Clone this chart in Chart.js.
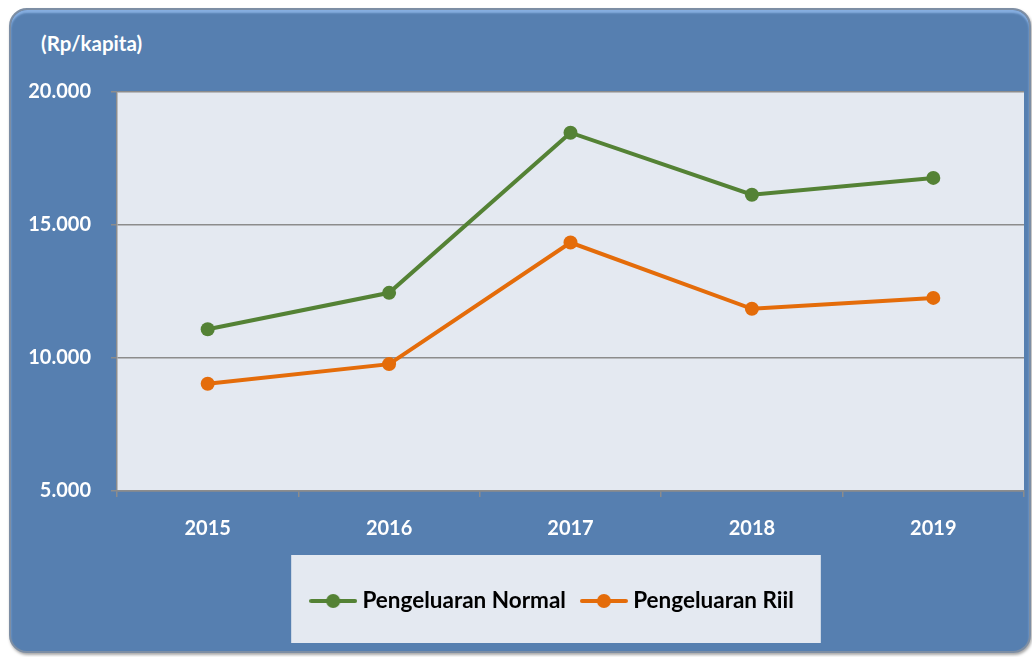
<!DOCTYPE html>
<html>
<head>
<meta charset="utf-8">
<script src="https://cdn.jsdelivr.net/npm/chart.js@4"></script>
<style>
  body { margin: 0; background: #ffffff; }
  #wrap { position: relative; width: 1032px; height: 657px; }
  #frame {
    position: absolute; left: 9px; top: 8px; width: 1018px; height: 641px;
    background: #567fb0; border: 2px solid #7d8ea4; border-radius: 18px;
    box-shadow: inset 0 3px 2px #86aee0, 1px 2px 3px rgba(0,0,0,0.35);
  }
  #unit {
    position: absolute; left: 41px; top: 31px; color: #fff;
    font: bold 20.5px Lato, sans-serif;
  }
  canvas { position: absolute; left: 0; top: 0; }
</style>
</head>
<body>
<div id="wrap">
  <div id="frame"></div>
  <div id="unit">(Rp/kapita)</div>
  <canvas id="myChart" width="1032" height="657"></canvas>
</div>
<script>
const years = ["2015", "2016", "2017", "2018", "2019"];
const normal = [11080, 12450, 18470, 16140, 16770];
const riil = [9030, 9770, 14340, 11850, 12260];
const yTicks = [5000, 10000, 15000, 20000];

const GREEN = "#548235";
const ORANGE = "#e46c0a";
const PLOT_BG = "#e4e9f1";

function legendGlyph(color) {
  const c = document.createElement("canvas");
  c.width = 48;
  c.height = 16;
  const g = c.getContext("2d");
  g.strokeStyle = color;
  g.lineWidth = 4;
  g.lineCap = "round";
  g.beginPath();
  g.moveTo(2, 8);
  g.lineTo(46, 8);
  g.stroke();
  g.fillStyle = color;
  g.beginPath();
  g.arc(24, 8, 7, 0, Math.PI * 2);
  g.fill();
  return c;
}

// legend sits a bit left of the plot centre in the original
const legendShift = {
  id: "legendShift",
  afterLayout(chart) {
    const a = chart.chartArea;
    const lg = chart.legend;
    const d = (a.left + a.right) / 2 - 16 - (lg.left + lg.right) / 2;
    lg.left += d;
    lg.right += d;
  }
};

const backdrop = {
  id: "backdrop",
  beforeDraw(chart) {
    const ctx = chart.ctx;
    const a = chart.chartArea;
    ctx.save();
    ctx.fillStyle = PLOT_BG;
    ctx.fillRect(a.left, a.top, a.right - a.left, a.bottom - a.top);
    const boxes = chart.legend.legendHitBoxes;
    if (boxes && boxes.length) {
      const left = Math.min(...boxes.map(b => b.left)) - 24;
      const right = Math.max(...boxes.map(b => b.left + b.width)) + 27;
      const mid = boxes[0].top + boxes[0].height / 2;
      ctx.fillRect(left, mid - 46, right - left, 88);
    }
    ctx.restore();
  }
};

const chartData = {
  labels: years,
  datasets: [
    {
      label: "Pengeluaran Normal",
      data: normal,
      borderColor: GREEN,
      backgroundColor: GREEN,
      borderWidth: 4,
      pointRadius: 7,
      pointBorderWidth: 0,
      pointStyle: "circle",
      tension: 0,
    },
    {
      label: "Pengeluaran Riil",
      data: riil,
      borderColor: ORANGE,
      backgroundColor: ORANGE,
      borderWidth: 4,
      pointRadius: 7,
      pointBorderWidth: 0,
      pointStyle: "circle",
      tension: 0,
    },
  ],
};

const config = {
  type: "line",
  data: chartData,
  plugins: [legendShift, backdrop],
  options: {
    responsive: false,
    animation: false,
    layout: { padding: { left: 0, right: 8, top: 92, bottom: 34.75 } },
    plugins: {
      tooltip: { enabled: false },
      legend: {
        position: "bottom",
        labels: {
          usePointStyle: true,
          pointStyleWidth: 36,
          padding: 20,
          color: "#000",
          font: { family: "Lato", weight: "bold", size: 22.5 },
          generateLabels(chart) {
            return chart.data.datasets.map((ds, i) => ({
              text: ds.label,
              fillStyle: ds.borderColor,
              strokeStyle: ds.borderColor,
              lineWidth: 0,
              pointStyle: legendGlyph(ds.borderColor),
              fontColor: "#000",
              datasetIndex: i,
              hidden: false,
            }));
          },
        },
      },
    },
    scales: {
      x: {
        offset: true,
        afterFit(scale) { scale.height = 78.75; },
        grid: {
          offset: true,
          drawOnChartArea: false,
          tickLength: 6,
          color: "#8c8c8c",
          lineWidth: 1.5,
        },
        border: { color: "#8c8c8c", width: 1.5 },
        ticks: {
          color: "#fff",
          padding: 20,
          font: { family: "Lato", weight: "bold", size: 20 },
        },
      },
      y: {
        min: 5000,
        max: 20000,
        afterFit(scale) { scale.width = 117; },
        afterBuildTicks(scale) { scale.ticks = yTicks.map(v => ({ value: v })); },
        grid: { color: "#8c8c8c", lineWidth: 1.5, tickLength: 6 },
        border: { color: "#8c8c8c", width: 1.5 },
        ticks: {
          color: "#fff",
          padding: 20,
          font: { family: "Lato", weight: "bold", size: 20 },
          callback: v => String(v).replace(/\B(?=(\d{3})+(?!\d))/g, "."),
        },
      },
    },
  },
};

const myChart = new Chart(document.getElementById("myChart"), config);
</script>
</body>
</html>
